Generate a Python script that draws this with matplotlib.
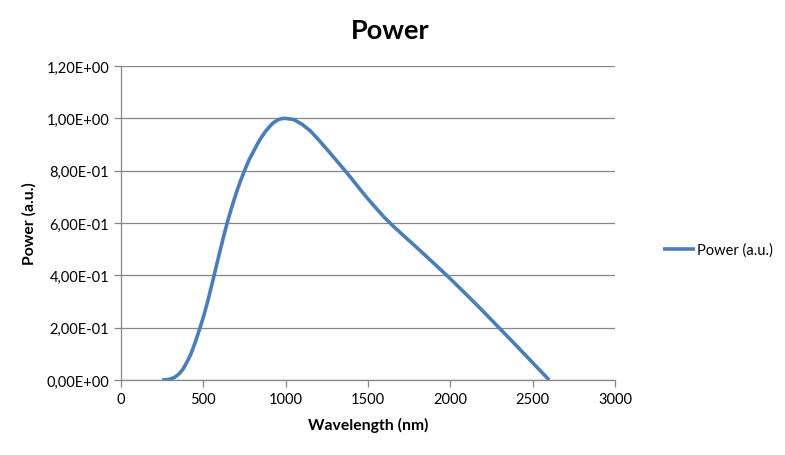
import numpy as np
import matplotlib
matplotlib.use('Agg')
import matplotlib.pyplot as plt
from matplotlib.ticker import FuncFormatter

plt.rcParams['font.family'] = ['Lato', 'DejaVu Sans']

# values
wavelength = [250, 275, 300, 325, 350, 375, 400, 425, 450, 475, 500, 525, 550, 575, 600, 625, 650, 675, 700,
              725, 750, 775, 800, 825, 850, 875, 900, 925, 950, 975, 1000,
              1050, 1100, 1150, 1200, 1250, 1300, 1350, 1400, 1450, 1500, 1550, 1600, 1650,
              1700, 1800, 1900, 2000, 2100, 2200, 2300, 2400, 2500, 2600]
power = [0.0, 0.001, 0.004, 0.01, 0.022, 0.04, 0.068, 0.10, 0.143, 0.19, 0.24, 0.297, 0.36, 0.425, 0.49,
         0.553, 0.612, 0.665, 0.715, 0.76, 0.80, 0.838, 0.868, 0.898, 0.925, 0.948, 0.967, 0.983, 0.993,
         0.999, 1.0,
         0.995, 0.977, 0.952, 0.918, 0.882, 0.845, 0.808, 0.77, 0.73, 0.692, 0.656, 0.621, 0.59,
         0.561, 0.504, 0.446, 0.387, 0.325, 0.262, 0.197, 0.132, 0.066, 0.0]
x_ticks = [0, 500, 1000, 1500, 2000, 2500, 3000]
y_ticks = [0.0, 0.2, 0.4, 0.6, 0.8, 1.0, 1.2]

grey = '#868686'

fig = plt.figure(figsize=(7.85, 4.56), dpi=100)
ax = fig.add_axes([121 / 785, 75 / 456, 494 / 785, 314 / 456])

ax.plot(wavelength, power, color='#4A7EBB', lw=2.6, label='Power (a.u.)',
        solid_capstyle='butt', solid_joinstyle='round')

ax.set_xlim(0, 3000)
ax.set_ylim(0, 1.2)
ax.set_xticks(x_ticks)
ax.set_yticks(y_ticks)
ax.yaxis.set_major_formatter(FuncFormatter(lambda v, p: f'{v:.2E}'.replace('.', ',')))

ax.grid(axis='y', color=grey, lw=0.9)
ax.set_axisbelow(True)
for s in ['top', 'right']:
    ax.spines[s].set_visible(False)
for s in ['left', 'bottom']:
    ax.spines[s].set_color(grey)
    ax.spines[s].set_linewidth(0.9)
ax.tick_params(colors=grey, labelcolor='black', labelsize=10.5, length=5, width=0.9)

ax.set_xlabel('Wavelength (nm)', fontsize=11.3, fontweight='bold', labelpad=8)
ax.set_ylabel('Power (a.u.)', fontsize=11.3, fontweight='bold', labelpad=7)
fig.text(0.497, 0.933, 'Power', ha='center', va='center', fontsize=19.5, fontweight='bold')

fig.legend(loc='center left', bbox_to_anchor=(650 / 785, 1 - 251 / 456), frameon=False,
           fontsize=10.5, handlelength=2.2, handletextpad=0.1)

fig.savefig('out.png', dpi=100)
